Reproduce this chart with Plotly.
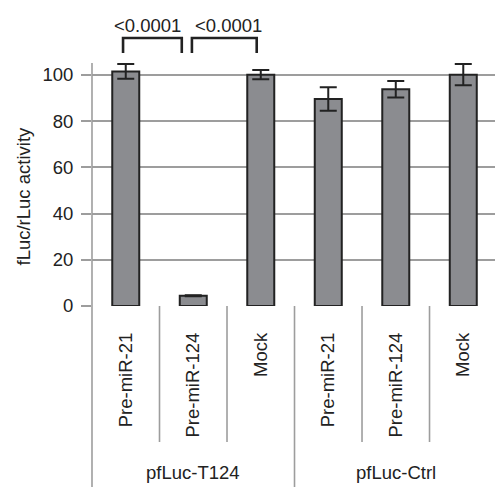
import plotly.graph_objects as go

categories = ["Pre-miR-21", "Pre-miR-124", "Mock", "Pre-miR-21", "Pre-miR-124", "Mock"]
groups = ["pfLuc-T124", "pfLuc-Ctrl"]
values = [101.5, 4.4, 100.1, 89.6, 93.8, 100.1]
errors = [3.2, 0.2, 2.0, 5.1, 3.6, 4.6]
yticks = [0, 20, 40, 60, 80, 100]
p_labels = ["<0.0001", "<0.0001"]
# brackets: (left x, right x) in category units; top and leg bottom in data units
brackets = [(-0.04, 0.83), (0.98, 1.94)]
bracket_top = 116.0
bracket_leg = 109.5
p_label_x = [0.32, 1.52]
p_label_y = 121.5

W, H = 495, 487
ML, MR, MT, MB = 92, 0, 10, 181
XR = [-0.5, 5.47]
YR = [0, 128.1]
PH = H - MT - MB
FS = 18.5

def xp(x):
    return (x - XR[0]) / (XR[1] - XR[0])

def yp_px(px_below_axis):
    return -px_below_axis / PH

GRID = "#9d9d9d"
INK = "#222222"
FONT = "Liberation Sans, Arial, sans-serif"

fig = go.Figure()
fig.add_trace(go.Bar(
    x=list(range(len(values))), y=values, width=0.4,
    marker=dict(color="#8b8c90", line=dict(color=INK, width=2)),
    error_y=dict(type="data", array=errors, visible=True, color=INK, thickness=2, width=8.5),
))

shapes = []
# y axis line (from ~105 down to image bottom)
shapes.append(dict(type="line", xref="paper", yref="paper", x0=0, x1=0,
                   y0=yp_px(MB), y1=105.2 / YR[1], line=dict(color=GRID, width=1.6)))
# category dividers below the axis
n = len(categories)
for k in range(1, n):
    bottom = MB if k == 3 else 136
    shapes.append(dict(type="line", xref="paper", yref="paper", x0=xp(k - 0.5), x1=xp(k - 0.5),
                       y0=yp_px(bottom), y1=0, line=dict(color=GRID, width=1.6)))
# significance brackets
for (a, b) in brackets:
    shapes.append(dict(type="path", xref="x", yref="y",
                       path=f"M {a},{bracket_leg} L {a},{bracket_top} L {b},{bracket_top} L {b},{bracket_leg}",
                       line=dict(color=INK, width=2.6)))

annotations = []
for t, x in zip(p_labels, p_label_x):
    annotations.append(dict(text=t, x=x, y=p_label_y, xref="x", yref="y", showarrow=False,
                            font=dict(size=FS, color=INK, family=FONT), xanchor="center", yanchor="middle"))
for i, g in enumerate(groups):
    annotations.append(dict(text=g, x=xp(1 + 3 * i), y=yp_px(167), xref="paper", yref="paper",
                            showarrow=False, font=dict(size=FS, color=INK, family=FONT),
                            xanchor="center", yanchor="middle"))
annotations.append(dict(text="fLuc/rLuc activity", x=(23 - ML) / (W - ML - MR), y=(H - MB - 196.5) / PH,
                        xref="paper", yref="paper", showarrow=False, textangle=-90,
                        font=dict(size=FS, color=INK, family=FONT), xanchor="center", yanchor="middle"))

fig.update_layout(
    width=W, height=H, margin=dict(l=ML, r=MR, t=MT, b=MB, pad=0),
    plot_bgcolor="white", paper_bgcolor="white", showlegend=False,
    font=dict(family=FONT, size=FS, color=INK),
    shapes=shapes, annotations=annotations,
    xaxis=dict(range=XR, tickvals=list(range(n)), ticktext=categories, tickangle=-90,
               showgrid=False, zeroline=False, showline=False, ticks="",
               ticklabelstandoff=22, tickfont=dict(size=FS, color=INK, family=FONT)),
    yaxis=dict(range=YR, tickvals=yticks, showgrid=True, gridcolor=GRID, gridwidth=1.6,
               zeroline=False, showline=False, ticks="outside", ticklen=10, tickcolor=GRID,
               tickwidth=1.6, ticklabelstandoff=4, tickfont=dict(size=FS, color=INK, family=FONT)),
)

fig.write_html("out.html", config={"displayModeBar": False},
               post_script="document.body.style.margin='0';document.body.style.padding='0';")
